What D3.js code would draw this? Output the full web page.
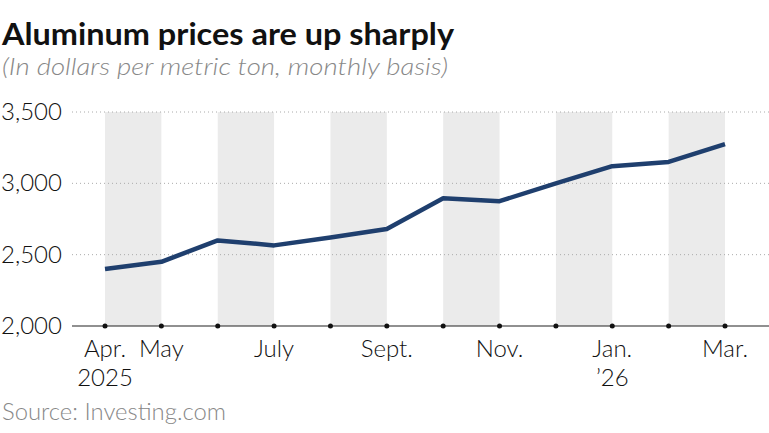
<!DOCTYPE html>
<html><head><meta charset="utf-8">
<script src="https://cdn.jsdelivr.net/npm/d3@7"></script>
<style>body{margin:0;background:#fff;font-family:Lato,"Open Sans",sans-serif;}</style>
</head><body>
<svg id="c" width="769" height="433"></svg>
<script>
var months = ['Apr','May','Jun','Jul','Aug','Sep','Oct','Nov','Dec','Jan','Feb','Mar'];
var prices = [2400, 2450, 2600, 2565, 2620, 2680, 2895, 2875, 3000, 3120, 3150, 3275];
var yTicks = [2000, 2500, 3000, 3500];
var xLabels = {0: ['Apr.', '2025'], 1: ['May'], 3: ['July'], 5: ['Sept.'], 7: ['Nov.'], 9: ['Jan.', '\u201926'], 11: ['Mar.']};

var svg = d3.select('#c');
var x = d3.scalePoint().domain(d3.range(months.length)).range([105, 725]);
var y = d3.scaleLinear().domain([2000, 3500]).range([326, 112]);
var step = x.step();

// shaded bands, every other pair of months
for (var i = 0; i < months.length; i += 2) {
	svg.append('rect').attr('x', x(i)).attr('y', y(3500)).attr('width', step)
		.attr('height', y(2000) - y(3500)).attr('fill', '#ebebeb');
}

svg.selectAll('line.grid').data(yTicks).enter().append('line')
	.attr('x1', 72).attr('x2', 769)
	.attr('y1', function (d) { return y(d); }).attr('y2', function (d) { return y(d); })
	.attr('stroke', function (d) { return d == 2000 ? '#222' : '#aaa'; })
	.attr('stroke-dasharray', function (d) { return d == 2000 ? null : '1,3'; })
	.attr('stroke-width', function (d) { return d == 2000 ? 1.2 : 1; });

svg.selectAll('text.yl').data(yTicks).enter().append('text')
	.attr('x', 1).attr('y', function (d) { return y(d) + 8; })
	.attr('font-size', 24).attr('font-weight', 300).attr('fill', '#111')
	.text(function (d) { return d3.format(',')(d); });

svg.selectAll('circle.tk').data(d3.range(months.length)).enter().append('circle')
	.attr('cx', function (d) { return x(d); }).attr('cy', y(2000)).attr('r', 2.5).attr('fill', '#111');

Object.keys(xLabels).forEach(function (k) {
	var t = svg.append('text').attr('x', x(+k)).attr('y', 357)
		.attr('text-anchor', 'middle').attr('font-size', 24).attr('font-weight', 300).attr('fill', '#111');
	xLabels[k].forEach(function (s, j) {
		t.append('tspan').attr('x', x(+k)).attr('dy', j ? 29 : 0).text(s);
	});
});

svg.append('path').datum(prices)
	.attr('d', d3.line().x(function (d, i) { return x(i); }).y(function (d) { return y(d); }))
	.attr('fill', 'none').attr('stroke', '#1f3f6e').attr('stroke-width', 4.5).attr('stroke-linejoin', 'round');

svg.append('text').attr('x', 2).attr('y', 45).attr('font-size', 31).attr('font-weight', 'bold')
	.attr('textLength', 452).attr('lengthAdjust', 'spacingAndGlyphs')
	.attr('fill', '#111').text('Aluminum prices are up sharply');
svg.append('text').attr('x', 2).attr('y', 75).attr('font-size', 23).attr('font-style', 'italic').attr('font-weight', 300)
	.attr('textLength', 446).attr('lengthAdjust', 'spacingAndGlyphs')
	.attr('fill', '#888').text('(In dollars per metric ton, monthly basis)');
svg.append('text').attr('x', 2).attr('y', 420).attr('font-size', 23).attr('font-weight', 300)
	.attr('textLength', 224).attr('lengthAdjust', 'spacingAndGlyphs')
	.attr('fill', '#888').text('Source: Investing.com');
</script>
</body></html>
